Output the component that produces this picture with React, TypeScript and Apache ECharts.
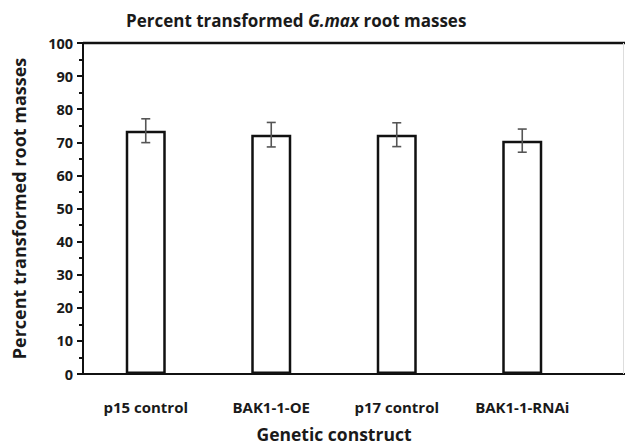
import React, { useEffect, useRef } from "react";
import * as echarts from "echarts";

const categories = ["p15 control", "BAK1-1-OE", "p17 control", "BAK1-1-RNAi"];
const means = [73.5, 72.3, 72.3, 70.5];
const errors = [3.6, 3.7, 3.6, 3.5];
const yTicks = [0, 10, 20, 30, 40, 50, 60, 70, 80, 90, 100];

const FONT = "'Open Sans', 'Noto Sans', sans-serif";

export default function App() {
  const ref = useRef<HTMLDivElement>(null);
  useEffect(() => {
    if (!ref.current) return;
    const chart = echarts.init(ref.current, null, { renderer: "svg" });
    const errData = means.map((m, i) => [i, m - errors[i], m + errors[i]]);
    chart.setOption({
      animation: false,
      backgroundColor: "#ffffff",
      title: {
        text: "{a|Percent transformed }{b|G.max}{a| root masses}",
        left: 121,
        top: 7,
        textStyle: {
          rich: {
            a: { fontFamily: FONT, fontWeight: "bold", fontSize: 17, color: "#1a1a1a" },
            b: { fontFamily: FONT, fontWeight: "bold", fontStyle: "italic", fontSize: 17, color: "#1a1a1a" },
          },
        },
      },
      grid: { left: 83, right: 40, top: 43, bottom: 70, containLabel: false },
      xAxis: {
        type: "category",
        data: categories,
        axisLine: { show: true, lineStyle: { color: "#111", width: 2 } },
        axisTick: { show: false },
        axisLabel: {
          interval: 0,
          hideOverlap: false,
          margin: 25,
          fontFamily: FONT,
          fontWeight: "bold",
          fontSize: 15,
          color: "#1a1a1a",
        },
        name: "Genetic construct",
        nameLocation: "middle",
        nameGap: 51,
        nameTextStyle: { fontFamily: FONT, fontWeight: "bold", fontSize: 17.5, color: "#1a1a1a" },
      },
      yAxis: {
        type: "value",
        min: yTicks[0],
        max: yTicks[yTicks.length - 1],
        interval: 10,
        splitLine: { show: false },
        axisLine: { show: true, lineStyle: { color: "#111", width: 2 } },
        axisTick: { show: true, length: 6, lineStyle: { color: "#111", width: 2 } },
        minorTick: { show: true, splitNumber: 2, length: 4, lineStyle: { color: "#111", width: 2 } },
        axisLabel: {
          margin: 10,
          fontFamily: FONT,
          fontWeight: "bold",
          fontSize: 14.5,
          color: "#1a1a1a",
        },
        name: "Percent transformed root masses",
        nameLocation: "middle",
        nameGap: 55,
        nameTextStyle: { fontFamily: FONT, fontWeight: "bold", fontSize: 18, color: "#1a1a1a" },
      },
      series: [
        {
          type: "bar",
          data: means,
          barWidth: 40,
          itemStyle: { color: "#ffffff", borderColor: "#111", borderWidth: 2.5 },
        },
        {
          type: "custom",
          data: errData,
          z: 10,
          renderItem: (params: any, api: any) => {
            const x = api.value(0);
            const lo = api.coord([x, api.value(1)]);
            const hi = api.coord([x, api.value(2)]);
            const cap = 4.5;
            const style = { stroke: "#555", lineWidth: 1.6 };
            return {
              type: "group",
              children: [
                { type: "line", shape: { x1: lo[0], y1: lo[1], x2: hi[0], y2: hi[1] }, style },
                { type: "line", shape: { x1: hi[0] - cap, y1: hi[1], x2: hi[0] + cap, y2: hi[1] }, style },
                { type: "line", shape: { x1: lo[0] - cap, y1: lo[1], x2: lo[0] + cap, y2: lo[1] }, style },
              ],
            };
          },
        },
      ],
    });
    const yBottom = chart.convertToPixel({ yAxisIndex: 0 }, yTicks[0]) as number;
    const yTop = chart.convertToPixel({ yAxisIndex: 0 }, yTicks[yTicks.length - 1]) as number;
    const xLeft = 83;
    const xRightAxis = 625 - 40;
    chart.setOption({
      graphic: [
        {
          type: "line",
          shape: { x1: xLeft, y1: yTop, x2: 625, y2: yTop },
          style: { stroke: "#111", lineWidth: 2.5 },
        },
        {
          type: "line",
          shape: { x1: xRightAxis - 1, y1: yBottom, x2: 625, y2: yBottom },
          style: { stroke: "#111", lineWidth: 2 },
        },
        {
          type: "line",
          shape: { x1: 623.5, y1: yTop, x2: 623.5, y2: yBottom },
          style: { stroke: "#dddddd", lineWidth: 1 },
        },
      ],
    });
    return () => chart.dispose();
  }, []);
  return <div ref={ref} style={{ width: 625, height: 448, position: "absolute", left: 0, top: 0 }} />;
}
